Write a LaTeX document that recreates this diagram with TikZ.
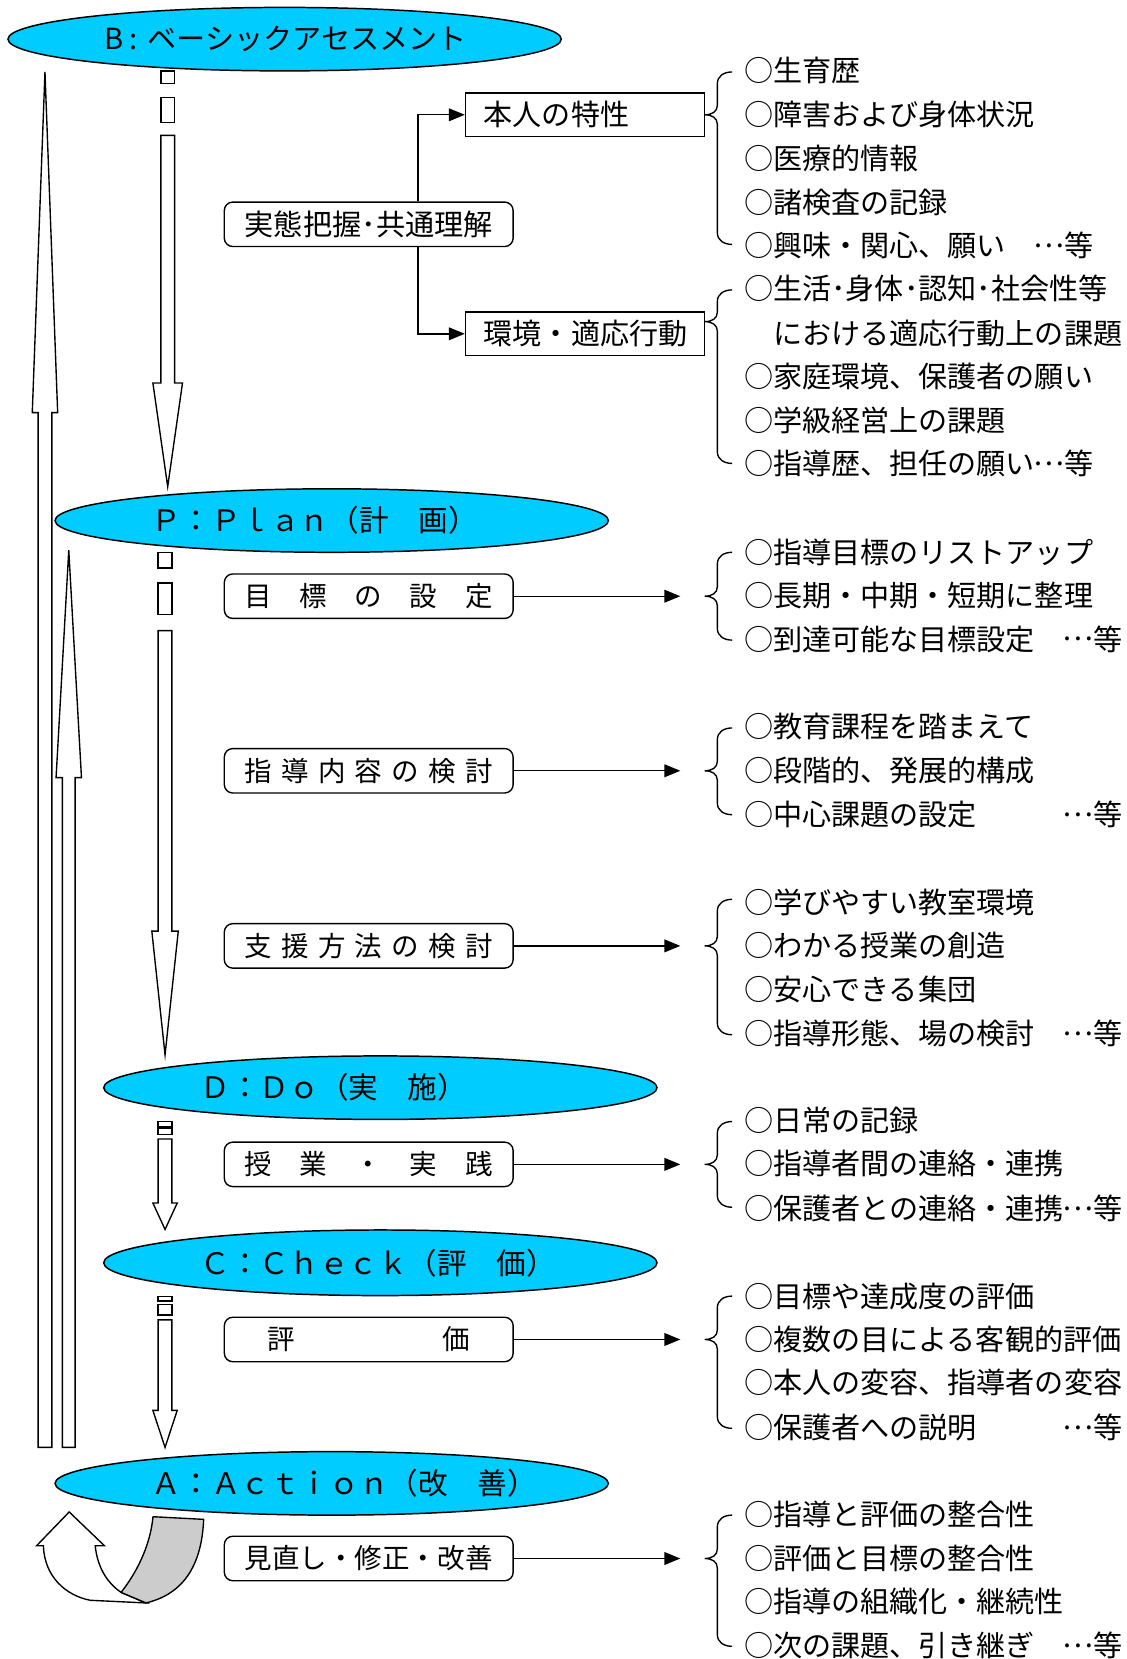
\documentclass[tikz,border=0pt]{standalone}
\usepackage{fontspec}
\newfontfamily\jpfont{Noto Sans CJK JP}
\usetikzlibrary{arrows.meta,shapes.geometric}
\definecolor{stagecyan}{HTML}{00CCFF}
\definecolor{bandgray}{HTML}{CCCCCC}
\newcommand\listfont{\jpfont\fontsize{27.5pt}{30pt}\selectfont}
\newcommand\boxfont{\jpfont\fontsize{26pt}{30pt}\selectfont}
\newcommand\etcmark{\raisebox{0.32em}{…}等}
\newcommand\bracedraw[3]{%
  \draw[bracestyle] (692,#1) .. controls (684,#1) and (678,#1+4) .. (678,#1+11)
    -- (678,#2-9) .. controls (678,#2-3) and (673,#2) .. (666,#2)
    .. controls (673,#2) and (678,#2+3) .. (678,#2+9)
    -- (678,#3-11) .. controls (678,#3-4) and (684,#3) .. (692,#3);}
\begin{document}
\begin{tikzpicture}[x=1pt,y=-1pt,
 stage/.style={ellipse,draw=black,line width=1.4pt,fill=stagecyan,minimum width=523pt,minimum height=60pt,inner sep=0pt},
 stagetext/.style={anchor=west,inner sep=0pt,font=\jpfont\fontsize{28pt}{30pt}\selectfont},
 rbox/.style={draw=black,line width=1.3pt,rounded corners=8pt,minimum width=273pt,minimum height=42pt,inner sep=0pt,font=\boxfont},
 sbox/.style={draw=black,line width=1.4pt,minimum width=226pt,minimum height=41pt,inner sep=0pt},
 sboxtext/.style={anchor=west,inner sep=0pt,font=\listfont},
 conn/.style={line width=1.3pt,-{Triangle[length=15pt,width=12pt]}},
 blockarrow/.style={draw=black,line width=1.3pt,fill=white,line join=miter},
 bracestyle/.style={line width=1.3pt},
 listtext/.style={anchor=west,inner sep=0pt,font=\listfont},
 etctext/.style={anchor=east,inner sep=0pt,font=\listfont},
]
\useasboundingbox (0,0) rectangle (1065,1568);
\fill[white] (0,0) rectangle (1065,1568);

% ---- left up arrows
\draw[blockarrow] (36,1368) -- (36,390) -- (30.5,390) -- (42.5,68) -- (54.5,390) -- (49,390) -- (49,1368) -- cycle;
\draw[blockarrow] (59,1368) -- (59,735) -- (53,735) -- (65,520) -- (77,735) -- (71,735) -- (71,1368) -- cycle;

% ---- down arrows
\draw[blockarrow] (152,67) rectangle (165,79);
\draw[blockarrow] (152,92) rectangle (165,116);
\draw[blockarrow] (152,128) -- (152,362) -- (144.5,362) -- (158.5,460) -- (172.5,362) -- (165,362) -- (165,128) -- cycle;

\draw[blockarrow] (149.5,522) rectangle (162.5,537);
\draw[blockarrow] (149.5,551) rectangle (162.5,581);
\draw[blockarrow] (149.5,596) -- (149.5,880) -- (143.5,880) -- (156,997) -- (168.5,880) -- (162.5,880) -- (162.5,596) -- cycle;

\draw[blockarrow] (149.5,1060) rectangle (162.5,1065);
\draw[blockarrow] (149.5,1066.5) rectangle (162.5,1072);
\draw[blockarrow] (149.5,1076.5) -- (149.5,1137) -- (144.5,1137) -- (156,1162) -- (167.5,1137) -- (162.5,1137) -- (162.5,1076.5) -- cycle;

\draw[blockarrow] (149.5,1225.5) rectangle (162.5,1229.5);
\draw[blockarrow] (149.5,1233) rectangle (162.5,1243);
\draw[blockarrow] (149.5,1247.5) -- (149.5,1333) -- (144.5,1333) -- (156,1368) -- (167.5,1333) -- (162.5,1333) -- (162.5,1247.5) -- cycle;

% ---- stages
\node[stage] (B) at (269,37) {};
\node[stagetext,font=\jpfont\fontsize{27.5pt}{30pt}\selectfont] (Bt) at ([xshift=92pt]B.west) {B\hspace{5pt}:\hspace{10pt}ベーシックアセスメント};
\node[stage] (P) at (313.5,492) {};
\node[stagetext] (Pt) at ([xshift=92pt]P.west) {Ｐ：Ｐｌａｎ（計　画）};
\node[stage] (D) at (359.5,1028) {};
\node[stagetext] (Dt) at ([xshift=92pt]D.west) {Ｄ：Ｄｏ（実　施）};
\node[stage,minimum height=62pt] (C) at (359.5,1193.5) {};
\node[stagetext] (Ct) at ([xshift=92pt]C.west) {Ｃ：Ｃｈｅｃｋ（評　価）};
\node[stage] (A) at (313.5,1402) {};
\node[stagetext] (At) at ([xshift=92pt]A.west) {Ａ：Ａｃｔｉｏｎ（改　善）};

% ---- rounded boxes
\node[rbox] (s0) at (348.5,212) {\jpfont\fontsize{27.6pt}{30pt}\selectfont 実態把握･共通理解};
\node[rbox] (s1) at (348.5,563.5) {目　標　の　設　定};
\node[rbox] (s2) at (348.5,728.5) {\makebox[235pt]{指\hfill 導\hfill 内\hfill 容\hfill の\hfill 検\hfill 討}};
\node[rbox] (s3) at (348.5,894) {\makebox[235pt]{支\hfill 援\hfill 方\hfill 法\hfill の\hfill 検\hfill 討}};
\node[rbox] (s4) at (348.5,1100.5) {授　業　・　実　践};
\node[rbox] (s5) at (348.5,1266) {\makebox[192pt]{評\hfill 価}};
\node[rbox] (s6) at (348.5,1473) {見直し・修正・改善};

% ---- sharp boxes
\node[sbox] (k1) at (553,108.5) {};
\node[sboxtext] (k1t) at (457,108.5) {本人の特性};
\node[sbox] (k2) at (553,315.5) {};
\node[sboxtext] (k2t) at (457,315.5) {環境・適応行動};

\draw[conn] ([xshift=46.5pt]s0.north) |- (k1.west);
\draw[conn] ([xshift=46.5pt]s0.south) |- (k2.west);

\coordinate (e1) at (643,563.5);
\coordinate (e2) at (643,728.5);
\coordinate (e3) at (643,894);
\coordinate (e4) at (643,1100.5);
\coordinate (e5) at (643,1266);
\coordinate (e6) at (643,1473);
\draw[conn] (s1.east) -- (e1);
\draw[conn] (s2.east) -- (e2);
\draw[conn] (s3.east) -- (e3);
\draw[conn] (s4.east) -- (e4);
\draw[conn] (s5.east) -- (e5);
\draw[conn] (s6.east) -- (e6);

% ---- braces
\bracedraw{68}{108.5}{231}
\bracedraw{274}{304}{438}
\bracedraw{522}{563.5}{605}
\bracedraw{688}{728.5}{770}
\bracedraw{850}{894}{978}
\bracedraw{1060}{1100.5}{1141}
\bracedraw{1225}{1266}{1350}
\bracedraw{1432}{1473}{1556}

% ---- lists
\node[listtext] (l1) at (703,67) {○生育歴};
\node[listtext] (l2) at (703,108) {○障害および身体状況};
\node[listtext] (l3) at (703,150) {○医療的情報};
\node[listtext] (l4) at (703,191) {○諸検査の記録};
\node[listtext] (l5) at (703,232) {○興味・関心、願い};
\node[etctext] (l5e) at (1034,232) {\etcmark};

\node[listtext] (m1) at (703,273) {○生活･身体･認知･社会性等};
\node[listtext] (m2) at (730.5,315) {における適応行動上の課題};
\node[listtext] (m3) at (703,356) {○家庭環境、保護者の願い};
\node[listtext] (m4) at (703,397) {○学級経営上の課題};
\node[listtext] (m5) at (703,438) {○指導歴、担任の願い};
\node[etctext] (m5e) at (1034,438) {\etcmark};

\node[listtext] (n1) at (703,522) {○指導目標のリストアップ};
\node[listtext] (n2) at (703,563) {○長期・中期・短期に整理};
\node[listtext] (n3) at (703,604) {○到達可能な目標設定};
\node[etctext] (n3e) at (1061,604) {\etcmark};

\node[listtext] (o1) at (703,687) {○教育課程を踏まえて};
\node[listtext] (o2) at (703,728) {○段階的、発展的構成};
\node[listtext] (o3) at (703,770) {○中心課題の設定};
\node[etctext] (o3e) at (1061,770) {\etcmark};

\node[listtext] (p1) at (703,853) {○学びやすい教室環境};
\node[listtext] (p2) at (703,894) {○わかる授業の創造};
\node[listtext] (p3) at (703,935) {○安心できる集団};
\node[listtext] (p4) at (703,977) {○指導形態、場の検討};
\node[etctext] (p4e) at (1061,977) {\etcmark};

\node[listtext] (q1) at (703,1059) {○日常の記録};
\node[listtext] (q2) at (703,1100) {○指導者間の連絡・連携};
\node[listtext] (q3) at (703,1142) {○保護者との連絡・連携};
\node[etctext] (q3e) at (1061,1142) {\etcmark};

\node[listtext] (r1) at (703,1225) {○目標や達成度の評価};
\node[listtext] (r2) at (703,1266) {○複数の目による客観的評価};
\node[listtext] (r3) at (703,1307) {○本人の変容、指導者の変容};
\node[listtext] (r4) at (703,1349) {○保護者への説明};
\node[etctext] (r4e) at (1061,1349) {\etcmark};

\node[listtext] (t1) at (703,1431) {○指導と評価の整合性};
\node[listtext] (t2) at (703,1473) {○評価と目標の整合性};
\node[listtext] (t3) at (703,1514) {○指導の組織化・継続性};
\node[listtext] (t4) at (703,1555) {○次の課題、引き継ぎ};
\node[etctext] (t4e) at (1061,1555) {\etcmark};

% ---- cycle arrow
\draw[line width=1.3pt,fill=white,line join=miter]
  (65.4,1429) -- (98.8,1461) -- (90,1461)
  .. controls (92,1480) and (100,1495) .. (114.4,1505)
  -- (138,1515) -- (85.4,1512.5)
  .. controls (62,1508) and (42,1490) .. (41,1461)
  -- (34.5,1461) -- cycle;
\draw[line width=1.3pt,fill=bandgray,line join=round]
  (144.6,1433.5) -- (192.5,1436)
  .. controls (191,1470) and (180,1505) .. (138,1515)
  -- (114.4,1505)
  .. controls (128,1488) and (142,1462) .. cycle;
\end{tikzpicture}
\end{document}
